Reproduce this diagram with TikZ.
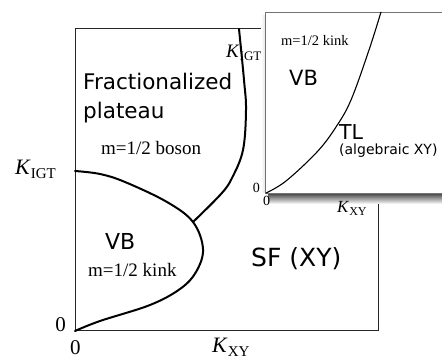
\documentclass[tikz,border=0pt]{standalone}
\usepackage{fontspec}
\setmainfont{Liberation Serif}
\newfontfamily\sansf{DejaVu Sans}
\usetikzlibrary{shadings}
\newcommand{\fs}[1]{\fontsize{#1}{#1}\selectfont}
\newcommand{\Klab}[3]{{\fs{#1}\textit{K}}{\fs{#2}\raisebox{-0.22em}{#3}}}
\begin{document}
\begin{tikzpicture}[x=1pt,y=-1pt,
  lab/.style={inner sep=0pt,anchor=base west},
  labr/.style={inner sep=0pt,anchor=base east},
  sanslab/.style={lab,font=\sansf},
  frame/.style={draw=black!85,line width=1pt},
  bound/.style={draw=black,line width=2pt,line cap=round},
  thinbound/.style={draw=black,line width=1.1pt}]
\useasboundingbox[fill=white] (0,0) rectangle (442,363);
% main frame
\draw[frame] (75,29) -- (75,331) -- (378,331) -- (378,29) -- cycle;
% labels main
\node[sanslab] (frac) at (83,90) {\fs{21.5}Fractionalized};
\node[sanslab] (plat) at (83,119) {\fs{21.5}plateau};
\node[lab] (boson) at (101,155) {\fs{19}m=1/2 boson};
\node[lab] (kigt) at (15,175) {\Klab{22}{15}{IGT}};
\node[sanslab] (vb) at (105,250) {\fs{22}VB};
\node[lab] (kink) at (88,277) {\fs{19}m=1/2 kink};
\node[labr] (zl) at (66,332) {\fs{21}0};
\node[lab] (zb) at (70,355) {\fs{21}0};
\node[lab] (kxy) at (212,353) {\Klab{22}{15}{XY}};
\node[sanslab] (sf) at (251,267) {\fs{25}SF (XY)};
\node[lab] (kigtt) at (226,58) {\Klab{19}{13}{IGT}};
% boundaries
\draw[bound] plot[smooth,tension=0.6] coordinates {(75,171) (100,174) (125,182) (167,202) (193,222) (203,249) (196,272) (180,289) (150,305) (100,321) (75,331)};
\draw[bound] plot[smooth,tension=0.6] coordinates {(239,29) (244,80) (246,110) (243,150) (232,178) (221,194) (193,222)};
% inset shadow
\shade[top color=black!75,bottom color=white] (268,193) rectangle (442,204);
\shade[left color=white,right color=black!10] (261,16) rectangle (265,193);
% inset
\draw[fill=white,draw=black!55,line width=0.8pt] (265,12) rectangle (444,193);
\draw[thinbound] plot[smooth,tension=0.6] coordinates {(266,193) (286,181) (317,152) (336,127) (351,100) (369,50) (381,12)};
\node[lab] (ikink) at (281,46) {\fs{14.5}m=1/2 kink};
\node[sanslab] (ivb) at (289,86) {\fs{21}VB};
\node[sanslab] (itl) at (339,140) {\fs{20.5}TL};
\node[sanslab] (ialg) at (339,155) {\fs{14}(algebraic XY)};
\node[labr] (izl) at (260,193) {\fs{14}0};
\node[lab] (izb) at (263,206) {\fs{14}0};
\node[lab] (ikxy) at (337,213) {\Klab{17}{12}{XY}};
\end{tikzpicture}
\end{document}
